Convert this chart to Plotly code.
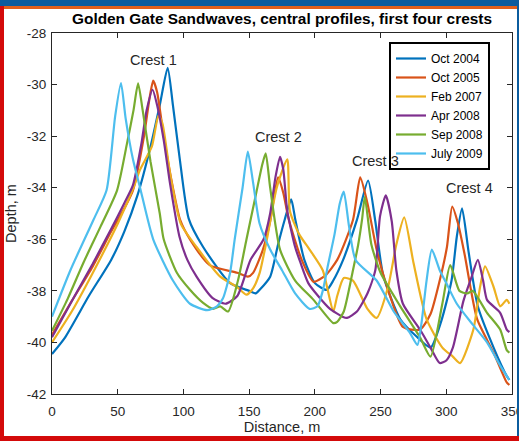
import plotly.graph_objects as go

# ---------------- data ----------------
series_names = ["Oct 2004", "Oct 2005", "Feb 2007", "Apr 2008", "Sep 2008", "July 2009"]
series_colors = ["#0072BD", "#D95319", "#EDB120", "#7E2F8E", "#77AC30", "#4DBEEE"]

oct2004_x = [0, 10, 28, 45, 55, 65, 75, 82, 88, 92, 97, 104, 115, 135.5, 150, 155, 158, 166, 172, 177, 182,
             185, 192, 200, 209, 214, 221.5, 232, 240.5, 246, 252, 265, 278, 288, 296, 304, 308, 312, 317,
             324, 336, 346, 348]
oct2004_d = [-40.45, -39.8, -38.2, -36.8, -35.7, -34.3, -32.4, -30.8, -29.35, -30.8, -32.8, -35.2, -36.3, -37.7,
             -38.0, -38.1, -37.96, -37.45, -36.2, -35.25, -34.45, -35.2, -36.8, -37.7, -37.96, -37.6, -36.8,
             -35.25, -33.72, -35.3, -37.4, -39.1, -39.8, -40.2, -39.2, -37.6, -35.9, -34.8, -36.5, -38.6,
             -40.2, -41.3, -41.45]

oct2005_x = [0, 15, 31, 45, 55, 61.6, 70, 74, 77, 80, 85, 92, 97.5, 105, 120, 141, 149, 153, 160.5, 166, 172,
             176, 180, 190, 199, 208, 217, 229, 234.5, 240, 247, 255, 267, 280, 288, 295, 300.5, 304.5, 309,
             314, 323.5, 336, 346, 348]
oct2005_d = [-39.7, -38.4, -37.05, -35.7, -34.8, -34.1, -32.0, -30.6, -29.85, -30.3, -32.0, -34.0, -35.25, -36.0,
             -37.0, -37.3, -37.45, -37.3, -36.4, -35.3, -33.6, -34.2, -35.2, -36.8, -37.65, -37.4, -36.8, -35.25,
             -33.6, -34.6, -36.4, -37.85, -39.4, -39.5, -38.9, -37.6, -36.3, -34.73, -35.4, -36.6, -39.1, -40.4,
             -41.55, -41.65]

feb2007_x = [0, 15, 30, 50, 62, 67, 76, 81, 84, 90, 98, 110, 128, 140.8, 148, 153, 158, 163.5, 171, 179, 181,
             188, 196, 206, 214, 217, 222, 229, 240, 247, 255.7, 262, 268, 275, 285, 297, 305, 310.5, 320.6,
             325.7, 329.5, 336, 341, 346, 348]
feb2007_d = [-40.0, -38.8, -37.4, -35.4, -34.0, -33.3, -32.4, -31.2, -31.5, -33.5, -35.4, -36.3, -37.45, -37.85,
             -38.15, -37.9, -37.3, -36.0, -34.0, -32.9, -34.9, -35.8, -36.4, -37.2, -38.8, -38.2, -37.5, -37.6,
             -38.7, -39.05, -37.85, -36.2, -35.15, -36.9, -39.1, -40.2, -40.55, -40.8, -39.5, -37.85, -37.05,
             -37.85, -38.6, -38.35, -38.5]

apr2008_x = [0, 15, 31, 45, 55, 61.6, 68, 72, 76.5, 80, 85, 90, 97, 103, 110, 122, 132, 141, 151, 161, 166,
             170, 173.5, 176, 179, 185, 189, 195, 202.5, 211.5, 221, 224.5, 232, 240, 246, 249.6, 254, 258.5,
             262, 267, 280, 288, 295, 300, 305, 313, 319, 324, 328, 331, 341, 346, 348]
apr2008_d = [-39.8, -38.4, -36.95, -35.6, -34.6, -33.9, -32.3, -31.0, -30.2, -30.8, -32.15, -33.9, -35.9, -36.8,
             -37.45, -38.27, -38.5, -38.2, -36.8, -36.0, -35.0, -33.6, -32.8, -33.3, -34.9, -36.3, -36.9, -37.7,
             -38.2, -38.7, -39.0, -39.05, -38.8, -38.1, -37.2, -35.1, -34.3, -35.3, -37.2, -38.5, -39.5, -40.2,
             -40.8, -40.7, -40.2, -38.4, -37.5, -36.8, -37.6, -38.35, -38.85, -39.5, -39.6]

sep2008_x = [0, 12, 24, 37, 49.5, 57, 62, 65.5, 69, 75, 82, 85, 95, 105, 115, 122.6, 128, 134, 141.5, 148,
             155, 160, 162.6, 166, 173.5, 185, 199, 214, 217, 222, 229, 233, 236, 238, 243, 250, 265, 280, 288,
             297, 303, 310, 316, 320, 331, 341, 346, 348]
sep2008_d = [-39.55, -38.3, -36.9, -35.5, -34.1, -32.3, -31.0, -29.95, -31.0, -33.0, -35.0, -36.0, -37.3, -37.96,
             -38.47, -38.7, -38.6, -38.8, -37.6, -36.0, -34.3, -33.1, -32.67, -34.0, -36.4, -37.6, -38.35, -39.25,
             -39.2, -38.8, -37.2, -36.2, -35.2, -34.35, -36.2, -37.3, -38.6, -39.8, -40.55, -38.5, -37.0, -38.0,
             -38.1, -38.0, -38.85, -39.5, -40.3, -40.4]

jul2009_x = [0, 14, 31.5, 41.5, 48, 52.5, 56, 61.6, 67, 77, 92, 105, 118, 125.5, 130, 135.5, 139, 145, 149, 153,
             158, 166, 175, 185, 196, 202, 206, 210, 215, 219, 222, 226, 231, 247, 260, 272, 278, 281, 285, 289,
             295, 300, 308, 320, 331, 341, 346, 348]
jul2009_d = [-39.0, -37.2, -35.25, -34.1, -31.25, -29.94, -31.3, -32.9, -34.0, -36.0, -37.6, -38.5, -38.75, -38.6,
             -38.3, -37.3, -36.0, -34.0, -32.6, -33.8, -35.4, -36.4, -37.2, -38.1, -38.7, -38.6, -38.0, -37.0,
             -35.8, -34.6, -34.15, -35.5, -36.8, -37.6, -38.8, -39.6, -40.1, -39.3, -37.6, -36.4, -37.2, -37.7,
             -38.5, -39.3, -40.0, -40.9, -41.3, -41.45]

crest_labels = ["Crest 1", "Crest 2", "Crest 3", "Crest 4"]
crest_label_x = [77, 172, 246.5, 317.5]
crest_label_d = [-29.05, -32.03, -32.95, -34.0]

x_ticks = [0, 50, 100, 150, 200, 250, 300, 350]
x_ticktext = ["0", "50", "100", "150", "200", "250", "300", "350"]
y_ticks = [-42, -40, -38, -36, -34, -32, -30, -28]
y_ticktext = ["-42", "-40", "-38", "-36", "-34", "-32", "-30", "-28"]

# ---------------- figure ----------------
W, H = 519, 441
ML, MR, MT, MB = 52, 7, 33, 47
PW, PH = W - ML - MR, H - MT - MB

def px2paper_x(px):
    return (px - ML) / PW

def py2paper_y(py):
    return (H - MB - py) / PH

FONT = "Liberation Sans, Arial, sans-serif"
AX_COLOR = "#262626"

fig = go.Figure()
all_x = [oct2004_x, oct2005_x, feb2007_x, apr2008_x, sep2008_x, jul2009_x]
all_d = [oct2004_d, oct2005_d, feb2007_d, apr2008_d, sep2008_d, jul2009_d]
for name, xs, ds, col in zip(series_names, all_x, all_d, series_colors):
    fig.add_trace(go.Scatter(x=xs, y=ds, mode="lines", name=name,
                             line=dict(color=col, width=2.2, shape="spline", smoothing=0.6)))

for txt, cx, cd in zip(crest_labels, crest_label_x, crest_label_d):
    fig.add_annotation(x=cx, y=cd, xref="x", yref="y", text=txt, showarrow=False,
                       font=dict(family=FONT, size=14.5, color=AX_COLOR))

axis_common = dict(showline=True, linecolor=AX_COLOR, linewidth=1, mirror="ticks",
                   ticks="inside", ticklen=5, tickcolor=AX_COLOR, showgrid=False, zeroline=False,
                   ticklabeloverflow="allow",
                   tickfont=dict(family=FONT, size=13.5, color=AX_COLOR))

fig.update_xaxes(range=[0, 350], tickvals=x_ticks, ticktext=x_ticktext, ticklabelstandoff=5,
                 title=dict(text="Distance, m", font=dict(family=FONT, size=14.5, color=AX_COLOR), standoff=3),
                 **axis_common)
fig.update_yaxes(range=[-42, -28], tickvals=y_ticks, ticktext=y_ticktext, ticklabelstandoff=2,
                 title=dict(text="Depth, m", font=dict(family=FONT, size=14.5, color=AX_COLOR), standoff=6),
                 **axis_common)

# slide frame around the figure
frame = [
    (0, 0, W, 6, "#0b5c9e"),
    (0, 6, W, 9, "#e0601c"),
    (0, 6, 4, H, "#d40a0a"),
    (0, H - 5, W, H, "#d40a0a"),
    (W - 2, 0, W, H - 5, "#0b5c9e"),
]
for x0, y0, x1, y1, col in frame:
    fig.add_shape(type="rect", xref="paper", yref="paper",
                  x0=px2paper_x(x0), x1=px2paper_x(x1), y0=py2paper_y(y1), y1=py2paper_y(y0),
                  fillcolor=col, line=dict(width=0), layer="above")

fig.update_layout(
    width=W, height=H,
    margin=dict(l=ML, r=MR, t=MT, b=MB, autoexpand=False),
    paper_bgcolor="white", plot_bgcolor="white",
    title=dict(text="Golden Gate Sandwaves, central profiles, first four crests",
               x=282 / W, xanchor="center",
               y=1 - 19 / H, yanchor="middle",
               font=dict(family=FONT, size=15.4, color="black", weight="bold")),
    legend=dict(x=px2paper_x(389), y=py2paper_y(42), xanchor="left", yanchor="top",
                bgcolor="white", bordercolor="black", borderwidth=2,
                font=dict(family=FONT, size=12, color="black"), tracegroupgap=0),
    showlegend=True,
)

fig.write_html("out.html")
